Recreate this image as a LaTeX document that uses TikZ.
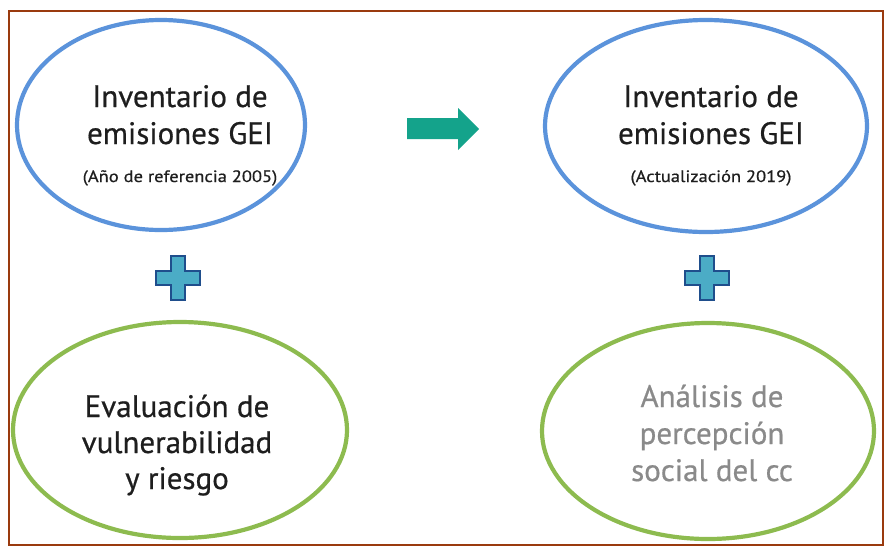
\documentclass[tikz,border=0pt]{standalone}
\usepackage{fontspec}
\setmainfont{PT Sans}[BoldFont=PT Sans, BoldFeatures={FakeBold=0.6}]
\usetikzlibrary{shapes.geometric}
\definecolor{framec}{HTML}{9A3A0E}
\definecolor{eblue}{HTML}{5B93DB}
\definecolor{egreen}{HTML}{8DBB4F}
\definecolor{txt}{HTML}{1E1E1E}
\definecolor{gtxt}{HTML}{8A8A8A}
\definecolor{arrowc}{HTML}{14A38B}
\definecolor{plusfill}{HTML}{4BACC6}
\definecolor{plusdraw}{HTML}{1F4E8C}
\tikzset{
  bubble/.style={ellipse, line width=4.2pt, inner sep=0pt},
  bigtxt/.style={anchor=base, inner sep=0pt, text=txt, font=\fontsize{31}{34}\selectfont\bfseries},
  smalltxt/.style={anchor=base, inner sep=0pt, text=txt, font=\fontsize{16.5}{18}\selectfont\bfseries},
  plusst/.style={draw=plusdraw, fill=plusfill, line width=2.8pt, line join=miter},
}
\begin{document}
\begin{tikzpicture}[x=1pt,y=-1pt]
\useasboundingbox (0,0) rectangle (885,547);
\draw[framec, line width=1.5pt] (9,11) rectangle (883,545);
% ellipses
\node[bubble, draw=eblue, minimum width=288pt, minimum height=210pt] (e1) at (161,125) {};
\node[bubble, draw=eblue, minimum width=322pt, minimum height=212pt] (e2) at (706,126) {};
\node[bubble, draw=egreen, minimum width=334pt, minimum height=216pt] (e3) at (180,430) {};
\node[bubble, draw=egreen, minimum width=332pt, minimum height=216pt] (e4) at (708,431) {};
% texts
\node[bigtxt] (t1a) at (180,107) {Inventario de};
\node[bigtxt] (t1b) at (180,144) {emisiones GEI};
\node[smalltxt] (t1c) at (180,182) {\scalebox{1.12}[1]{(Año de referencia 2005)}};
\node[bigtxt] (t2a) at (711,107) {Inventario de};
\node[bigtxt] (t2b) at (711,144) {emisiones GEI};
\node[smalltxt] (t2c) at (711,182) {\scalebox{1.12}[1]{(Actualización 2019)}};
\node[bigtxt] (t3a) at (177,417) {Evaluación de};
\node[bigtxt] (t3b) at (177,453) {vulnerabilidad};
\node[bigtxt] (t3c) at (177,489) {y riesgo};
\node[bigtxt, text=gtxt] (t4a) at (712,407) {Análisis de};
\node[bigtxt, text=gtxt] (t4b) at (712,444) {percepción};
\node[bigtxt, text=gtxt] (t4c) at (712,481) {social del cc};
% plus signs
\foreach \cx/\cy in {178/278, 707/278}{
  \draw[plusst] (\cx-7,\cy-22) -- (\cx+7,\cy-22) -- (\cx+7,\cy-7) -- (\cx+22,\cy-7)
    -- (\cx+22,\cy+7) -- (\cx+7,\cy+7) -- (\cx+7,\cy+22) -- (\cx-7,\cy+22)
    -- (\cx-7,\cy+7) -- (\cx-22,\cy+7) -- (\cx-22,\cy-7) -- (\cx-7,\cy-7) -- cycle;
}
% arrow
\fill[arrowc] (407,118) -- (458,118) -- (458,108) -- (479,129) -- (458,150) -- (458,139) -- (407,139) -- cycle;
\end{tikzpicture}
\end{document}
